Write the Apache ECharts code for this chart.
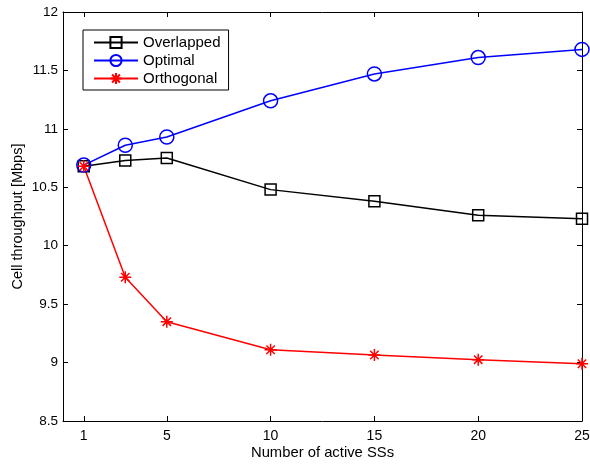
<!DOCTYPE html>
<html>
<head>
<meta charset="utf-8">
<script src="https://cdn.jsdelivr.net/npm/echarts@6/dist/echarts.min.js"></script>
<style>
html, body { margin: 0; padding: 0; background: #fff; }
#chart { width: 590px; height: 464px; }
</style>
</head>
<body>
<div id="chart"></div>
<script>
// number of active SSs
var activeSS = [1, 3, 5, 10, 15, 20, 25];
var xTicks = [1, 5, 10, 15, 20, 25];
// cell throughput [Mbps]
var overlapped = [10.68, 10.73, 10.75, 10.48, 10.38, 10.26, 10.23];
var optimal = [10.69, 10.86, 10.93, 11.24, 11.47, 11.61, 11.68];
var orthogonal = [10.68, 9.73, 9.35, 9.11, 9.065, 9.025, 8.99];

function pairs(vals){
	var out = [];
	for(var i = 0; i < activeSS.length; i++)
		out.push([activeSS[i], vals[i]]);
	return out;
}

var font = 'Liberation Sans, Arial, Helvetica, sans-serif';
var starPath = 'path://M0,-10L0,10M-10,0L10,0M-7,-7L7,7M-7,7L7,-7';

var chart = echarts.init(document.getElementById('chart'));

var baseX = {
	type: 'value',
	min: 0,
	max: 25,
	interval: 5,
	axisLine: { show: true, onZero: false, lineStyle: { color: '#000', width: 1 } },
	axisTick: { show: true, inside: true, length: 5, customValues: xTicks, lineStyle: { color: '#000' } },
	splitLine: { show: false }
};
var baseY = {
	type: 'value',
	min: 8.5,
	max: 12,
	interval: 0.5,
	axisLine: { show: true, onZero: false, lineStyle: { color: '#000', width: 1 } },
	axisTick: { show: true, inside: true, length: 5, lineStyle: { color: '#000' } },
	splitLine: { show: false }
};

var option = {
	animation: false,
	backgroundColor: '#fff',
	grid: { left: 63, right: 8, top: 12, bottom: 43, outerBoundsMode: 'none', containLabel: false },
	legend: {
		left: 83,
		top: 30,
		orient: 'vertical',
		backgroundColor: '#fff',
		borderColor: '#000',
		borderWidth: 1,
		borderRadius: 0,
		padding: [5, 8, 4, 10],
		itemGap: 3,
		itemWidth: 44,
		itemHeight: 14,
		textStyle: { fontFamily: font, fontSize: 15, color: '#000' },
		data: ['Overlapped', 'Optimal', 'Orthogonal']
	},
	xAxis: [
		Object.assign({}, baseX, {
			position: 'bottom',
			name: 'Number of active SSs',
			nameLocation: 'middle',
			nameGap: 24,
			nameMoveOverlap: false,
			nameTextStyle: { fontFamily: font, fontSize: 14.8, color: '#000' },
			axisLabel: { customValues: xTicks, margin: 8, fontFamily: font, fontSize: 14, color: '#000' }
		}),
		Object.assign({}, baseX, {
			position: 'top',
			axisLabel: { show: false }
		})
	],
	yAxis: [
		Object.assign({}, baseY, {
			position: 'left',
			name: 'Cell throughput [Mbps]',
			nameLocation: 'middle',
			nameGap: 38,
			nameMoveOverlap: false,
			nameTextStyle: { fontFamily: font, fontSize: 14.5, color: '#000' },
			axisLabel: { margin: 5, fontFamily: font, fontSize: 13.5, color: '#000' }
		}),
		Object.assign({}, baseY, {
			position: 'right',
			axisLabel: { show: false }
		})
	],
	series: [
		{
			name: 'Overlapped',
			type: 'line',
			data: pairs(overlapped),
			symbol: 'rect',
			symbolSize: 11,
			showAllSymbol: true,
			color: '#000',
			lineStyle: { color: '#000', width: 1.5 },
			itemStyle: { color: 'rgba(255,255,255,0)', borderColor: '#000', borderWidth: 1.5 }
		},
		{
			name: 'Optimal',
			type: 'line',
			data: pairs(optimal),
			symbol: 'circle',
			symbolSize: 14,
			showAllSymbol: true,
			color: '#0000ff',
			lineStyle: { color: '#0000ff', width: 1.5 },
			itemStyle: { color: 'rgba(255,255,255,0)', borderColor: '#0000ff', borderWidth: 1.5 }
		},
		{
			name: 'Orthogonal',
			type: 'line',
			data: pairs(orthogonal),
			symbol: starPath,
			symbolSize: 12,
			showAllSymbol: true,
			color: '#ff0000',
			lineStyle: { color: '#ff0000', width: 1.5 },
			itemStyle: { color: 'rgba(255,0,0,0)', borderColor: '#ff0000', borderWidth: 1.5 }
		}
	]
};
chart.setOption(option);
</script>
</body>
</html>
